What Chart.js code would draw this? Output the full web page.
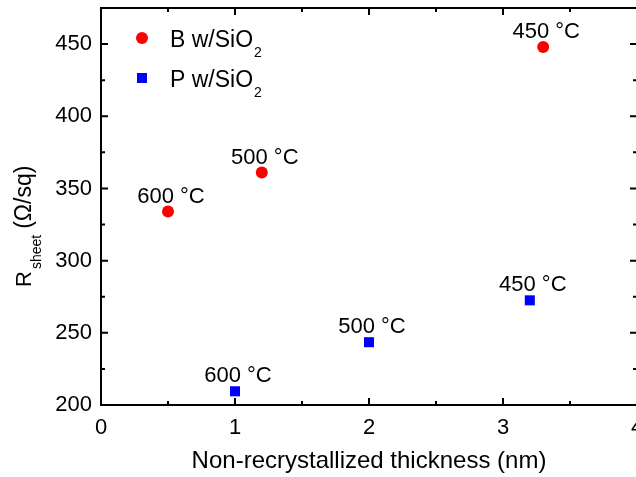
<!DOCTYPE html>
<html>
<head>
<meta charset="utf-8">
<script src="https://cdn.jsdelivr.net/npm/chart.js@4"></script>
<style>
  html, body { margin: 0; padding: 0; overflow: hidden; background: #fff; }
  canvas { display: block; }
</style>
</head>
<body>
<canvas id="myChart" width="640" height="477"></canvas>
<script>
// data
const bThickness = [0.5, 1.2, 3.3];
const bRsheet = [334, 361, 448];
const bTemps = ["600 °C", "500 °C", "450 °C"];

const pThickness = [1.0, 2.0, 3.2];
const pRsheet = [209.5, 243.5, 272.5];
const pTemps = ["600 °C", "500 °C", "450 °C"];

const xTicks = [0, 1, 2, 3, 4];
const yTicks = [200, 250, 300, 350, 400, 450];

const FONT = '"Liberation Sans", Arial, sans-serif';
Chart.defaults.color = "#000";
Chart.defaults.font.family = FONT;

const toPoints = (xs, ys) => xs.map((x, i) => ({ x: x, y: ys[i] }));

// frame with inward ticks on all four sides, plus top/right lines
const framePlugin = {
    id: "frame",
    afterDraw(chart) {
        const ctx = chart.ctx;
        const a = chart.chartArea;
        const xs = chart.scales.x;
        const ys = chart.scales.y;
        ctx.save();
        ctx.strokeStyle = "#000";
        ctx.lineWidth = 2;
        ctx.strokeRect(a.left, a.top, a.right - a.left, a.bottom - a.top);
        ctx.beginPath();
        for (let v = xs.min; v <= xs.max + 1e-9; v += 0.5) {
            const px = xs.getPixelForValue(v);
            const len = Math.abs(v - Math.round(v)) < 1e-9 ? 7 : 4;
            ctx.moveTo(px, a.bottom); ctx.lineTo(px, a.bottom - len);
            ctx.moveTo(px, a.top); ctx.lineTo(px, a.top + len);
        }
        for (let v = 200; v <= ys.max + 1e-9; v += 25) {
            const py = ys.getPixelForValue(v);
            const len = v % 50 === 0 ? 7 : 4;
            ctx.moveTo(a.left, py); ctx.lineTo(a.left + len, py);
            ctx.moveTo(a.right, py); ctx.lineTo(a.right - len, py);
        }
        ctx.stroke();
        ctx.restore();
    }
};

// temperature labels above points, legend and y title with subscripts
const textPlugin = {
    id: "texts",
    afterDatasetsDraw(chart) {
        const ctx = chart.ctx;
        ctx.save();
        ctx.fillStyle = "#000";
        ctx.font = "22px " + FONT;
        ctx.textAlign = "center";
        ctx.textBaseline = "alphabetic";
        [bTemps, pTemps].forEach((labels, di) => {
            chart.getDatasetMeta(di).data.forEach((pt, i) => {
                ctx.fillText(labels[i], pt.x + 3, pt.y - 9);
            });
        });

        // legend
        ctx.textAlign = "left";
        const items = [
            { ds: chart.data.datasets[0], y: 38, txt: "B w/SiO" },
            { ds: chart.data.datasets[1], y: 78, txt: "P w/SiO" }
        ];
        items.forEach(it => {
            ctx.fillStyle = it.ds.backgroundColor;
            if (it.ds.pointStyle === "rect") {
                ctx.fillRect(137, it.y - 5, 10, 10);
            } else {
                ctx.beginPath();
                ctx.arc(142, it.y, 6, 0, Math.PI * 2);
                ctx.fill();
            }
            ctx.fillStyle = "#000";
            ctx.font = "23px " + FONT;
            ctx.fillText(it.txt, 170, it.y + 9);
            const w = ctx.measureText(it.txt).width;
            ctx.font = "14px " + FONT;
            ctx.fillText("2", 170 + w + 1, it.y + 19);
        });

        // y axis title
        ctx.translate(31, 287);
        ctx.rotate(-Math.PI / 2);
        ctx.font = "22px " + FONT;
        ctx.fillText("R", 0, 0);
        const rw = ctx.measureText("R").width;
        ctx.font = "14px " + FONT;
        ctx.fillText("sheet", rw + 2, 10);
        const sw = ctx.measureText("sheet").width;
        ctx.font = "23px " + FONT;
        ctx.fillText("(Ω/sq)", rw + 2 + sw + 6, 0);
        ctx.restore();
    }
};

const ctx = document.getElementById("myChart").getContext("2d");
const myChart = new Chart(ctx, {
    type: "scatter",
    data: {
        datasets: [
            {
                label: "B w/SiO2",
                data: toPoints(bThickness, bRsheet),
                backgroundColor: "#ff0000",
                borderWidth: 0,
                pointStyle: "circle",
                pointRadius: 6
            },
            {
                label: "P w/SiO2",
                data: toPoints(pThickness, pRsheet),
                backgroundColor: "#0000ff",
                borderWidth: 0,
                pointStyle: "rect",
                pointRadius: 7.1
            }
        ]
    },
    options: {
        responsive: false,
        animation: false,
        events: [],
        layout: { padding: { top: 8, right: 3, left: 0, bottom: 0 }, autoPadding: false },
        plugins: {
            legend: { display: false },
            tooltip: { enabled: false }
        },
        scales: {
            x: {
                type: "linear",
                min: xTicks[0],
                max: xTicks[xTicks.length - 1],
                grid: { display: false, drawTicks: false },
                border: { display: false },
                ticks: { stepSize: 1, padding: 10, maxRotation: 0, font: { size: 22 } },
                title: {
                    display: true,
                    text: "Non-recrystallized thickness (nm)",
                    font: { size: 24 },
                    padding: { top: 0, bottom: 1 }
                },
                afterFit(scale) {
                    scale.height = 72;
                    scale.paddingLeft = 0;
                    scale.paddingRight = 0;
                }
            },
            y: {
                type: "linear",
                min: yTicks[0],
                max: 475,
                grid: { display: false, drawTicks: false },
                border: { display: false },
                ticks: { stepSize: 50, includeBounds: false, padding: 9, font: { size: 22 } },
                afterBuildTicks(scale) { scale.ticks = yTicks.map(v => ({ value: v })); },
                afterFit(scale) {
                    scale.width = 101;
                    scale.paddingTop = 0;
                    scale.paddingBottom = 0;
                }
            }
        }
    },
    plugins: [framePlugin, textPlugin]
});
</script>
</body>
</html>
